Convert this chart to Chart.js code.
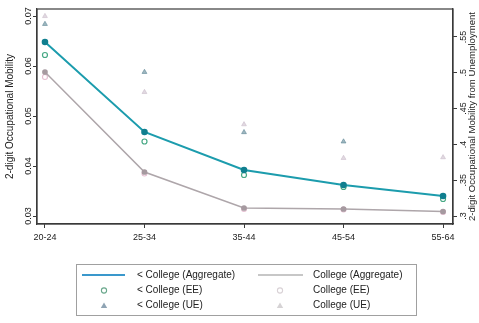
<!DOCTYPE html>
<html>
<head>
<meta charset="utf-8">
<script src="https://cdn.jsdelivr.net/npm/chart.js@4"></script>
<style>
  html, body { margin: 0; padding: 0; background: #fff; }
  #wrap { width: 479px; height: 323px; position: relative; }
</style>
</head>
<body>
<div id="wrap"><canvas id="c" width="479" height="323"></canvas></div>
<script>
// Age groups on the x axis
const ageGroups = ['20-24', '25-34', '35-44', '45-54', '55-64'];

// Aggregate occupational mobility (left axis)
const lessCollegeAgg = [0.0648, 0.0468, 0.0392, 0.0362, 0.0340];
const collegeAgg     = [0.0588, 0.0388, 0.0316, 0.0314, 0.0309];

// Employer-to-employer mobility (left axis)
const lessCollegeEE = [0.0622, 0.0449, 0.0382, 0.0358, 0.0334];
const collegeEE     = [0.0578, 0.0385, 0.0314, 0.0313, 0.0308];

// Mobility from unemployment (right axis)
const lessCollegeUE = [0.568, 0.501, 0.417, 0.404, null];
const collegeUE     = [0.579, 0.473, 0.428, 0.381, 0.382];

// Axis ticks
const leftTicks  = [0.03, 0.04, 0.05, 0.06, 0.07];
const leftTickLabels = ['0.03', '0.04', '0.05', '0.06', '0.07'];
const rightTicks = [0.30, 0.35, 0.40, 0.45, 0.50, 0.55];
const rightTickLabels = ['.3', '.35', '.4', '.45', '.5', '.55'];

const FONT = '"Liberation Sans", Arial, sans-serif';
const AXIS = '#3a3a3a';

function pts(values) {
  return values.map((v, i) => ({ x: i, y: v }));
}

const datasets = [
  {
    label: '< College (Aggregate)', data: pts(lessCollegeAgg), yAxisID: 'yL',
    showLine: true, borderColor: '#1c9cad', borderWidth: 2,
    pointRadius: 2.3, pointBackgroundColor: '#107f8f', pointBorderColor: '#107f8f',
    legendKind: 'line', legendColor: '#3a98cc'
  },
  {
    label: 'College (Aggregate)', data: pts(collegeAgg), yAxisID: 'yL',
    showLine: true, borderColor: '#aea6aa', borderWidth: 1.5,
    pointRadius: 2.1, pointBackgroundColor: '#a69aa0', pointBorderColor: '#a69aa0',
    legendKind: 'line', legendColor: '#8f8f8f'
  },
  {
    label: '< College (EE)', data: pts(lessCollegeEE), yAxisID: 'yL',
    showLine: false, pointStyle: 'circle', pointRadius: 2.5, borderWidth: 1.2,
    pointBackgroundColor: '#ffffff', pointBorderColor: '#46a884',
    legendKind: 'point', legendColor: '#6aa88c'
  },
  {
    label: 'College (EE)', data: pts(collegeEE), yAxisID: 'yL',
    showLine: false, pointStyle: 'circle', pointRadius: 2.5, borderWidth: 1.1,
    pointBackgroundColor: 'rgba(255,255,255,0)', pointBorderColor: 'rgba(222,170,195,0.75)',
    legendKind: 'point', legendColor: '#d9d2d6'
  },
  {
    label: '< College (UE)', data: pts(lessCollegeUE), yAxisID: 'yR',
    showLine: false, pointStyle: 'triangle', pointRadius: 2.8, borderWidth: 1,
    pointBackgroundColor: 'rgba(95,135,150,0.6)', pointBorderColor: 'rgba(95,135,150,0.6)',
    legendKind: 'point', legendColor: '#8fa4b4'
  },
  {
    label: 'College (UE)', data: pts(collegeUE), yAxisID: 'yR',
    showLine: false, pointStyle: 'triangle', pointRadius: 2.8, borderWidth: 1,
    pointBackgroundColor: 'rgba(200,185,200,0.55)', pointBorderColor: 'rgba(200,185,200,0.55)',
    legendKind: 'point', legendColor: '#d6d3d5'
  }
];

// Frame, rotated y labels, axis titles and a two-column legend
const decorations = {
  id: 'decorations',
  afterDraw(chart) {
    const ctx = chart.ctx;
    const a = chart.chartArea;
    ctx.save();

    // plot frame
    ctx.strokeStyle = AXIS;
    ctx.lineWidth = 1.2;
    ctx.strokeRect(a.left, a.top, a.right - a.left, a.bottom - a.top);

    // rotated tick labels
    ctx.fillStyle = '#222';
    ctx.font = '9px ' + FONT;
    ctx.textAlign = 'center';
    ctx.textBaseline = 'middle';
    const yL = chart.scales.yL, yR = chart.scales.yR;
    leftTicks.forEach((v, i) => {
      const py = yL.getPixelForValue(v);
      ctx.save(); ctx.translate(29, py); ctx.rotate(-Math.PI / 2);
      ctx.fillText(leftTickLabels[i], 0, 0); ctx.restore();
    });
    rightTicks.forEach((v, i) => {
      const py = yR.getPixelForValue(v);
      ctx.save(); ctx.translate(464, py); ctx.rotate(-Math.PI / 2);
      ctx.fillText(rightTickLabels[i], 0, 0); ctx.restore();
    });

    // axis titles
    const midY = (a.top + a.bottom) / 2;
    ctx.font = '10px ' + FONT;
    ctx.save(); ctx.translate(10, midY); ctx.rotate(-Math.PI / 2);
    ctx.fillText('2-digit Occupational Mobility', 0, 0); ctx.restore();
    ctx.font = '9.6px ' + FONT;
    ctx.save(); ctx.translate(472, midY); ctx.rotate(-Math.PI / 2);
    ctx.fillText('2-digit Occupational Mobility from Unemployment', 0, 0); ctx.restore();

    // legend box
    ctx.strokeStyle = '#a0a0a0';
    ctx.lineWidth = 1;
    ctx.strokeRect(76.5, 264.5, 340, 51);
    const colX = [{ line0: 82, line1: 125, mark: 104, text: 137 },
                  { line0: 258, line1: 303, mark: 280, text: 313 }];
    const rowY = [275, 290.5, 305.5];
    ctx.font = '10px ' + FONT;
    ctx.textAlign = 'left';
    chart.data.datasets.forEach((ds, i) => {
      const c = colX[i % 2];
      const y = rowY[Math.floor(i / 2)];
      if (ds.legendKind === 'line') {
        ctx.strokeStyle = ds.legendColor;
        ctx.lineWidth = i === 0 ? 2 : 1.2;
        ctx.beginPath(); ctx.moveTo(c.line0, y); ctx.lineTo(c.line1, y); ctx.stroke();
      } else if (ds.pointStyle === 'circle') {
        ctx.strokeStyle = ds.legendColor;
        ctx.lineWidth = 1.1;
        ctx.beginPath(); ctx.arc(c.mark, y, 2.6, 0, Math.PI * 2); ctx.stroke();
      } else {
        ctx.fillStyle = ds.legendColor;
        ctx.beginPath();
        ctx.moveTo(c.mark, y - 3); ctx.lineTo(c.mark + 3.2, y + 2.4); ctx.lineTo(c.mark - 3.2, y + 2.4);
        ctx.closePath(); ctx.fill();
      }
      ctx.fillStyle = '#222';
      ctx.fillText(ds.label, c.text, y);
    });
    ctx.restore();
  }
};

new Chart(document.getElementById('c'), {
  type: 'scatter',
  data: { datasets },
  options: {
    responsive: false,
    animation: false,
    layout: { padding: { top: 9, left: 0, right: 0, bottom: 0 } },
    plugins: { legend: { display: false }, tooltip: { enabled: false } },
    scales: {
      x: {
        type: 'linear', min: -0.08, max: 4.1,
        afterBuildTicks(s) { s.ticks = ageGroups.map((_, i) => ({ value: i })); },
        afterFit(s) { s.height = 99; },
        ticks: {
          callback: (v) => ageGroups[v] ?? '',
          font: { family: FONT, size: 9 }, color: '#222', padding: 4,
          maxRotation: 0, minRotation: 0
        },
        grid: { display: true, drawOnChartArea: false, drawTicks: true, tickLength: 4, color: AXIS },
        border: { display: true, color: AXIS, width: 1.2 }
      },
      yL: {
        type: 'linear', position: 'left', min: 0.0284, max: 0.0714,
        afterBuildTicks(s) { s.ticks = leftTicks.map(v => ({ value: v })); },
        afterFit(s) { s.width = 37; },
        ticks: { display: false },
        grid: { display: true, drawOnChartArea: false, drawTicks: true, tickLength: 4, color: AXIS },
        border: { display: true, color: AXIS, width: 1.2 }
      },
      yR: {
        type: 'linear', position: 'right', min: 0.289, max: 0.589,
        afterBuildTicks(s) { s.ticks = rightTicks.map(v => ({ value: v })); },
        afterFit(s) { s.width = 26; },
        ticks: { display: false },
        grid: { display: true, drawOnChartArea: false, drawTicks: true, tickLength: 4, color: AXIS },
        border: { display: true, color: AXIS, width: 1.2 }
      }
    }
  },
  plugins: [decorations]
});
</script>
</body>
</html>
